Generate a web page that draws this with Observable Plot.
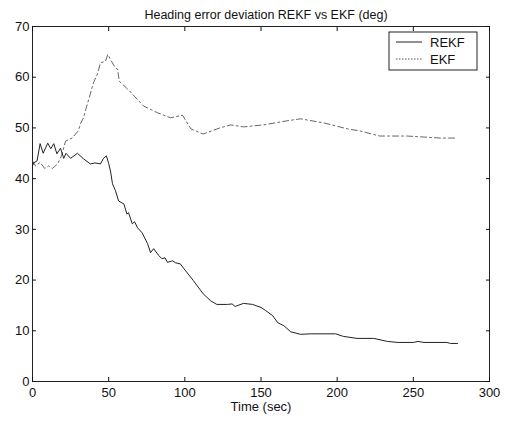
<!DOCTYPE html>
<html>
<head>
<meta charset="utf-8">
<script src="https://cdn.jsdelivr.net/npm/d3@7"></script>
<script src="https://cdn.jsdelivr.net/npm/@observablehq/plot@0.6"></script>
<style>
  body { margin: 0; background: #fff; }
  #chart { position: relative; width: 507px; height: 423px; }
</style>
</head>
<body>
<div id="chart"></div>
<script>
const titleText = "Heading error deviation REKF vs EKF (deg)";
const xLabel = "Time (sec)";
const xTicks = [0, 50, 100, 150, 200, 250, 300];
const yTicks = [0, 10, 20, 30, 40, 50, 60, 70];
const seriesNames = ["REKF", "EKF"];

const rekfTime = [0, 0.7, 3, 5, 7, 10, 12, 14, 16, 18.4, 20.5, 22, 25, 29.5, 33.5, 38, 41, 44.6, 46.6, 48.5, 50, 51.2, 52.5, 54.5, 56.5, 60, 62, 63, 65.5, 67, 69, 72, 75.5, 77.5, 79.5, 83, 85, 87, 88.6, 92, 94, 97, 99, 105.6, 112, 117, 121, 128, 131, 133, 138.5, 144.5, 150, 153, 157.6, 161, 165, 169.5, 176, 182.5, 199, 204, 213, 224, 233, 240, 250, 253, 257, 272, 274.5, 279];
const rekfValue = [42.5, 43.1, 43.5, 46.9, 45, 47, 45.9, 46.9, 44.9, 46, 44, 45, 44, 45, 43.9, 42.9, 43.1, 42.9, 44, 44.5, 43, 41.5, 39, 37.6, 35.6, 35, 33, 33.3, 31.1, 31.5, 30.3, 29.3, 27.2, 25.4, 26.2, 24.8, 24.2, 24.4, 23.5, 23.8, 23.4, 23.2, 22.4, 19.9, 17.3, 15.9, 15.2, 15.2, 15.3, 14.8, 15.4, 15.2, 14.6, 14, 13, 11.6, 11, 9.8, 9.3, 9.4, 9.4, 8.9, 8.5, 8.5, 7.9, 7.7, 7.7, 7.9, 7.7, 7.7, 7.5, 7.5];

const ekfTime = [0, 2, 5, 8, 10.5, 13, 16.5, 19, 21.7, 26, 30, 31.5, 33.5, 35, 37, 40, 42.6, 44.6, 48, 49.4, 52.5, 54.5, 55.8, 57, 63, 73, 82, 90.6, 98.5, 104, 112, 123, 130, 138.5, 151.7, 167, 176, 191, 207, 215, 228, 246, 268, 278];
const ekfValue = [43.5, 42.5, 43.2, 42, 42.5, 42, 42.9, 44.5, 47.4, 48, 49.4, 50.8, 52, 53.7, 55.7, 58.9, 60.6, 62.8, 63.2, 64.5, 62.8, 61.8, 61.6, 59.2, 57.5, 54.3, 53, 52, 52.5, 49.8, 48.8, 50, 50.6, 50.2, 50.6, 51.4, 51.8, 51, 49.8, 49.4, 48.4, 48.4, 48, 48];

const rekf = rekfTime.map((t, i) => ({t, v: rekfValue[i]}));
const ekf = ekfTime.map((t, i) => ({t, v: ekfValue[i]}));

const plot = Plot.plot({
  width: 507,
  height: 423,
  marginLeft: 32,
  marginRight: 18,
  marginTop: 26,
  marginBottom: 42,
  style: {fontFamily: "Liberation Sans, Arial, sans-serif", fontSize: "13px", color: "#111", background: "#fff"},
  x: {domain: [0, 300]},
  y: {domain: [0, 70]},
  marks: [
    Plot.frame({stroke: "#222", strokeWidth: 1}),
    Plot.axisX({ticks: xTicks, tickSize: -4, tickPadding: 10, label: null, tickFormat: d => d, fontSize: 13}),
    Plot.axisX({anchor: "top", ticks: xTicks, tickSize: -4, tickFormat: () => "", label: null}),
    Plot.axisY({ticks: yTicks, tickSize: -4, tickPadding: 7, label: null, tickFormat: d => d, fontSize: 13}),
    Plot.axisY({anchor: "right", ticks: yTicks, tickSize: -4, tickFormat: () => "", label: null}),
    Plot.line(ekf, {x: "t", y: "v", stroke: "#555", strokeWidth: 0.9, strokeDasharray: "6,3,2,3"}),
    Plot.line(rekf, {x: "t", y: "v", stroke: "#222", strokeWidth: 1}),
    Plot.text([titleText], {frameAnchor: "top", dy: -16, dx: 5, fontSize: 12.5, fill: "#111"}),
    Plot.text([xLabel], {frameAnchor: "bottom", dy: 29, fontSize: 13, fill: "#111"})
  ]
});
document.getElementById("chart").appendChild(plot);

// Legend box (MATLAB style), drawn into the SVG
const svg = d3.select(plot);
const lg = svg.append("g").attr("transform", "translate(389,32)");
lg.append("rect").attr("width", 88).attr("height", 38).attr("fill", "#fff").attr("stroke", "#222").attr("stroke-width", 1);
const styles = [
  {stroke: "#222", dash: null},
  {stroke: "#555", dash: "1.5,1.5"}
];
seriesNames.forEach((name, i) => {
  const y = 10 + i * 17;
  lg.append("line").attr("x1", 7).attr("x2", 33).attr("y1", y).attr("y2", y)
    .attr("stroke", styles[i].stroke).attr("stroke-width", 1)
    .attr("stroke-dasharray", styles[i].dash);
  lg.append("text").attr("x", 41).attr("y", y).attr("dy", "0.35em")
    .attr("text-anchor", "start")
    .attr("font-size", 13).attr("fill", "#111").text(name);
});
</script>
</body>
</html>
